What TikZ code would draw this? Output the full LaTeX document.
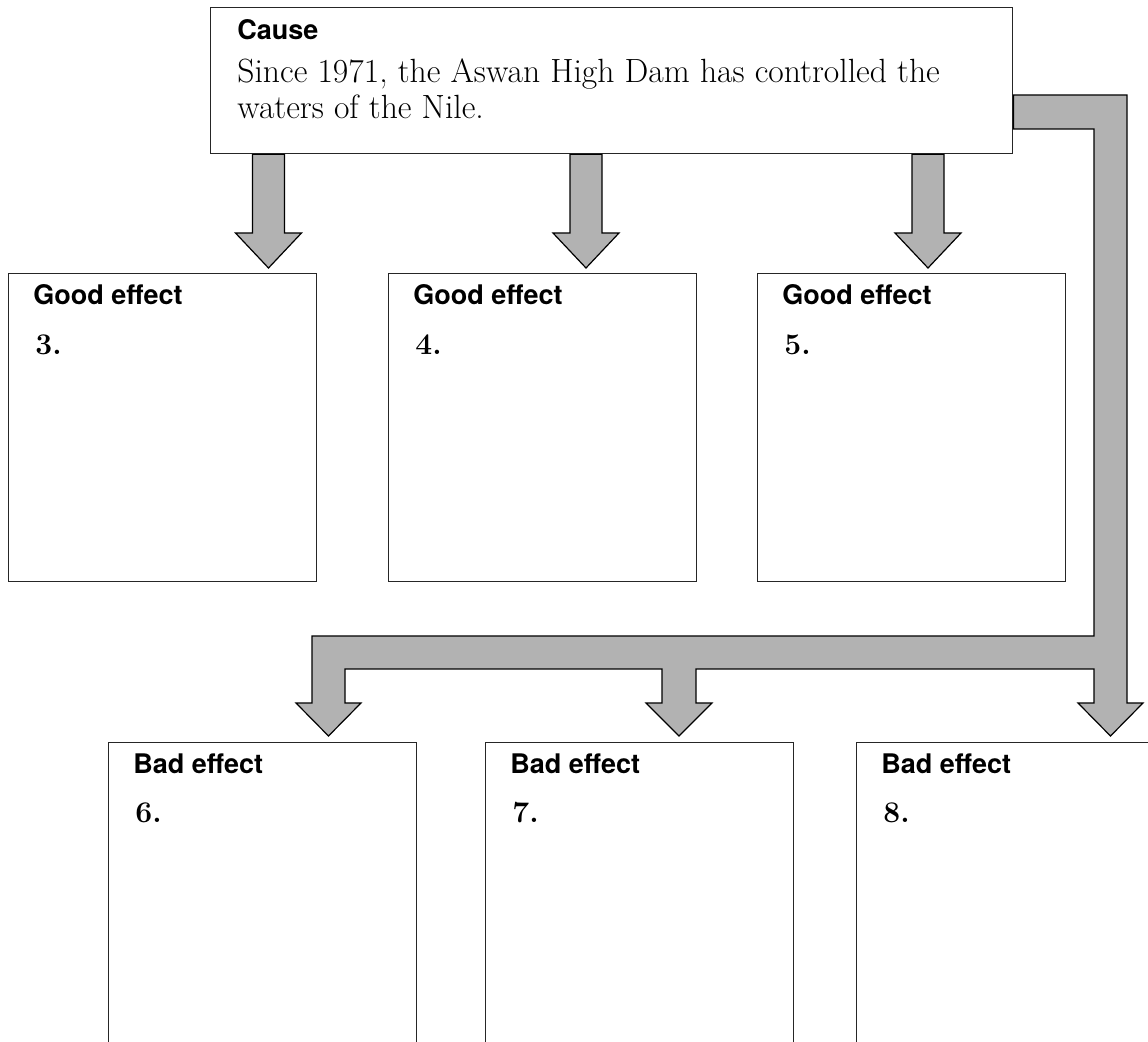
\documentclass[tikz,border=0pt]{standalone}
\usepackage{fontspec}
\setsansfont{TeX Gyre Heros}
\usetikzlibrary{calc}
\definecolor{arrowgray}{RGB}{178,178,178}

\begin{document}
\begin{tikzpicture}[x = 0.5pt, y = -0.5pt]
	\tikzset{box/.style={shape = rectangle, draw = black!85, line width = 0.7pt, anchor = north west, inner sep = 0pt, minimum width = 154pt, minimum height = 154pt}}
	\tikzset{head/.style={font = \sffamily\bfseries\fontsize{13.5}{15}\selectfont, anchor = base west, inner sep = 0pt}}
	\tikzset{num/.style={font = \bfseries\fontsize{15}{17}\selectfont, anchor = base west, inner sep = 0pt}}
	\tikzset{fat/.style={fill = arrowgray, draw = black, line width = 0.6pt, line join = miter}}
	\tikzset{fat arrow/.style={fat, to path={
		($(\tikztostart)+(-16, 0)$) -- ($(\tikztotarget)+(-16, -40)$) -- ($(\tikztotarget)+(-33, -40)$)
		-- ($(\tikztotarget)+(0, -5)$) -- ($(\tikztotarget)+(33, -40)$) -- ($(\tikztotarget)+(16, -40)$)
		-- ($(\tikztostart)+(16, 0)$) -- cycle}}}
	\useasboundingbox (0, 0) rectangle (1148, 1042);
	%boxes
	\node[box, minimum width = 401pt, minimum height = 73pt] (cause) at (210, 7) {};
	\node[box] (good1) at (8, 273) {};
	\node[box] (good2) at (388, 273) {};
	\node[box] (good3) at (757, 273) {};
	\node[box, minimum height = 160pt] (bad1) at (108, 742) {};
	\node[box, minimum height = 160pt] (bad2) at (485, 742) {};
	\node[box, minimum height = 160pt] (bad3) at (856, 742) {};
	%texts
	\node[head] (cause-head) at ([shift={(27, 33)}]cause.north west) {Cause};
	\node[anchor = north west, inner sep = 0pt, align = left, font = \fontsize{16.8}{18}\selectfont] (cause-text)
		at ([shift={(27, 51)}]cause.north west) {Since 1971, the Aswan High Dam has controlled the\\waters of the Nile.};
	\foreach \b/\n in {good1/3, good2/4, good3/5} {
		\node[head] (\b-head) at ([shift={(25, 32)}]\b.north west) {Good effect};
		\node[num] (\b-num) at ([shift={(27, 82)}]\b.north west) {\n.};
	}
	\foreach \b/\n in {bad1/6, bad2/7, bad3/8} {
		\node[head] (\b-head) at ([shift={(25, 32)}]\b.north west) {Bad effect};
		\node[num] (\b-num) at ([shift={(27, 81)}]\b.north west) {\n.};
	}
	%arrows
	\coordinate (x1) at (268.5, 0);
	\coordinate (x2) at (586, 0);
	\coordinate (x3) at (928, 0);
	\draw[fat arrow] (x1 |- cause.south) to (x1 |- good1.north);
	\draw[fat arrow] (x2 |- cause.south) to (x2 |- good2.north);
	\draw[fat arrow] (x3 |- cause.south) to (x3 |- good3.north);
	\draw[fat] (cause.east |- 0, 95) -- (1127, 95) -- (1127, 703) -- (1143, 703) -- (1110.5, 736) -- (1078, 703)
		-- (1094, 703) -- (1094, 669) -- (696, 669) -- (696, 703) -- (712, 703) -- (679, 736) -- (646, 703)
		-- (662, 703) -- (662, 669) -- (345, 669) -- (345, 703) -- (361, 703) -- (328.5, 736) -- (296, 703)
		-- (312, 703) -- (312, 636) -- (1094, 636) -- (1094, 129) -- (cause.east |- 0, 129) -- cycle;
\end{tikzpicture}
\end{document}
